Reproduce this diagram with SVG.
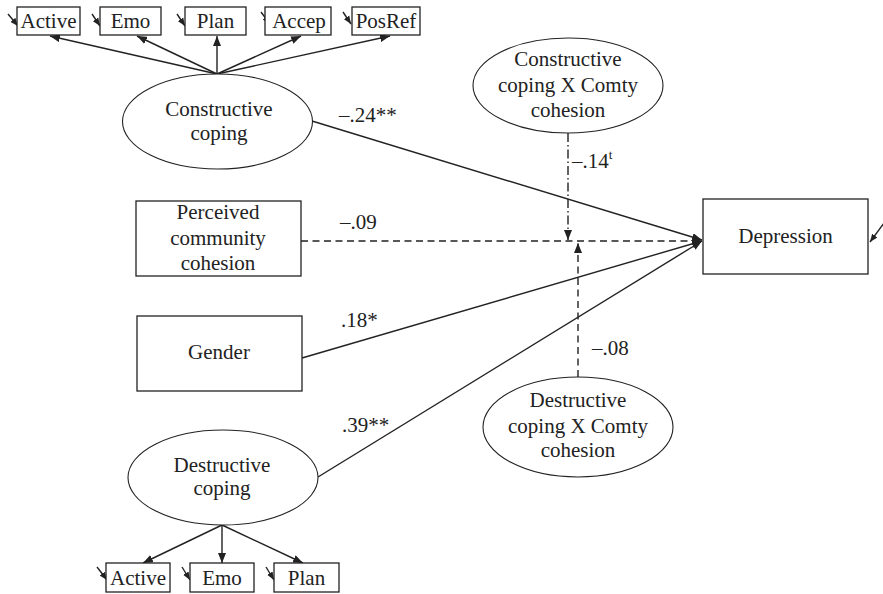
<svg xmlns="http://www.w3.org/2000/svg" width="883" height="594" viewBox="0 0 883 594">
<style>
  .box{fill:#fff;stroke:#222;stroke-width:1.3}
  .ell{fill:#fff;stroke:#222;stroke-width:1.1}
  .t{font-family:"Liberation Serif","Times New Roman",serif;font-size:21px;fill:#222;text-anchor:middle}
  .lbl{font-family:"Liberation Serif","Times New Roman",serif;font-size:21px;fill:#222}
  .ln{stroke:#222;stroke-width:1.4;fill:none}
  .dash{stroke-dasharray:7 4.5}
  .dashdot{stroke-dasharray:9 3 1.5 3}
</style>
<defs>
  <marker id="ah" viewBox="0 0 10 8" refX="10" refY="4" markerWidth="10" markerHeight="8" markerUnits="userSpaceOnUse" orient="auto">
    <path d="M0,0 L10,4 L0,8 z" fill="#222"/>
  </marker>
  <marker id="ahs" viewBox="0 0 10 8" refX="10" refY="4" markerWidth="8" markerHeight="7" markerUnits="userSpaceOnUse" orient="auto">
    <path d="M0,0 L10,4 L0,8 z" fill="#222"/>
  </marker>
</defs>
<rect width="883" height="594" fill="#fff"/>

<g id="connectors">
  <!-- structural paths to Depression -->
  <line class="ln" x1="312" y1="121" x2="702" y2="240" marker-end="url(#ah)"/>
  <line class="ln dash" x1="301" y1="241" x2="702" y2="241" marker-end="url(#ah)"/>
  <line class="ln" x1="302" y1="358" x2="702" y2="241" marker-end="url(#ah)"/>
  <line class="ln" x1="318" y1="477" x2="702" y2="241" marker-end="url(#ah)"/>
  <!-- moderation paths -->
  <line class="ln dashdot" x1="568" y1="133" x2="568" y2="240" marker-end="url(#ah)"/>
  <line class="ln dash" x1="578" y1="377" x2="578" y2="243" marker-end="url(#ah)"/>
  <!-- loadings constructive coping -->
  <line class="ln" x1="217" y1="74" x2="50" y2="36" marker-end="url(#ah)"/>
  <line class="ln" x1="217" y1="74" x2="137" y2="36" marker-end="url(#ah)"/>
  <line class="ln" x1="217" y1="74" x2="217" y2="36" marker-end="url(#ah)"/>
  <line class="ln" x1="217" y1="74" x2="301" y2="36" marker-end="url(#ah)"/>
  <line class="ln" x1="217" y1="74" x2="390" y2="36" marker-end="url(#ah)"/>
  <!-- loadings destructive coping -->
  <line class="ln" x1="222" y1="525" x2="143" y2="563" marker-end="url(#ah)"/>
  <line class="ln" x1="222" y1="525" x2="222" y2="563" marker-end="url(#ah)"/>
  <line class="ln" x1="222" y1="525" x2="303" y2="563" marker-end="url(#ah)"/>
  <!-- error terms -->
  <line class="ln" x1="8" y1="14" x2="18" y2="26" marker-end="url(#ahs)"/>
  <line class="ln" x1="92" y1="14" x2="100" y2="26" marker-end="url(#ahs)"/>
  <line class="ln" x1="177" y1="14" x2="185" y2="26" marker-end="url(#ahs)"/>
  <line class="ln" x1="261" y1="12" x2="270" y2="24" marker-end="url(#ahs)"/>
  <line class="ln" x1="343" y1="12" x2="351" y2="24" marker-end="url(#ahs)"/>
  <line class="ln" x1="97" y1="567" x2="107" y2="580" marker-end="url(#ahs)"/>
  <line class="ln" x1="182" y1="567" x2="190" y2="580" marker-end="url(#ahs)"/>
  <line class="ln" x1="266" y1="567" x2="274" y2="580" marker-end="url(#ahs)"/>
  <line class="ln" x1="884" y1="223" x2="870" y2="242" marker-end="url(#ahs)"/>
  <!-- path coefficients -->
  <text class="lbl" x="339" y="122">–.24**</text>
  <text class="lbl" x="340" y="229">–.09</text>
  <text class="lbl" x="341" y="327">.18*</text>
  <text class="lbl" x="342" y="432">.39**</text>
  <text class="lbl" x="572" y="168">–.14<tspan dy="-9" font-size="13">t</tspan></text>
  <text class="lbl" x="592" y="355">–.08</text>
</g>

<g id="ind-top-active"><rect class="box" x="17" y="7" width="63" height="28"/><text class="t" x="48.5" y="28">Active</text></g>
<g id="ind-top-emo"><rect class="box" x="100" y="7" width="61" height="28"/><text class="t" x="130.5" y="28">Emo</text></g>
<g id="ind-top-plan"><rect class="box" x="185" y="7" width="61" height="28"/><text class="t" x="215.5" y="28">Plan</text></g>
<g id="ind-top-accep"><rect class="box" x="265" y="7" width="66" height="28"/><text class="t" x="299" y="28">Accep</text></g>
<g id="ind-top-posref"><rect class="box" x="352" y="7" width="68" height="28"/><text class="t" x="386" y="28">PosRef</text></g>

<g id="constructive-coping"><ellipse class="ell" cx="217.5" cy="121.5" rx="95" ry="47.5"/><text class="t" x="219" y="116">Constructive</text><text class="t" x="219" y="140">coping</text></g>

<g id="constructive-x-cohesion"><ellipse class="ell" cx="568" cy="85.5" rx="95" ry="47.5"/><text class="t" x="568" y="66">Constructive</text><text class="t" x="568" y="92">coping X Comty</text><text class="t" x="568" y="117">cohesion</text></g>

<g id="perceived-cohesion"><rect class="box" x="136" y="201" width="165" height="75"/><text class="t" x="218" y="219">Perceived</text><text class="t" x="218" y="245">community</text><text class="t" x="218" y="270">cohesion</text></g>

<g id="gender"><rect class="box" x="137" y="316" width="165" height="75"/><text class="t" x="219" y="359">Gender</text></g>

<g id="depression"><rect class="box" x="703" y="199" width="165" height="75"/><text class="t" x="785.5" y="243">Depression</text></g>

<g id="destructive-x-cohesion"><ellipse class="ell" cx="578" cy="427" rx="95" ry="50"/><text class="t" x="578" y="407">Destructive</text><text class="t" x="578" y="433">coping X Comty</text><text class="t" x="578" y="457">cohesion</text></g>

<g id="destructive-coping"><ellipse class="ell" cx="223" cy="477.5" rx="95" ry="47.5"/><text class="t" x="222" y="472">Destructive</text><text class="t" x="222" y="495">coping</text></g>

<g id="ind-bot-active"><rect class="box" x="106" y="563" width="64" height="29"/><text class="t" x="138" y="585">Active</text></g>
<g id="ind-bot-emo"><rect class="box" x="190" y="563" width="64" height="29"/><text class="t" x="222" y="585">Emo</text></g>
<g id="ind-bot-plan"><rect class="box" x="274" y="563" width="65" height="29"/><text class="t" x="306.5" y="585">Plan</text></g>
</svg>
